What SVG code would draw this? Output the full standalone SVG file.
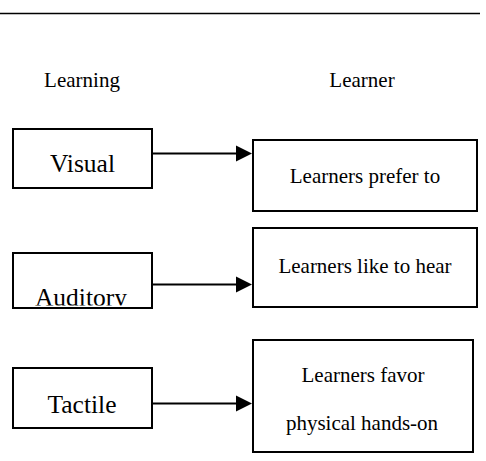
<svg xmlns="http://www.w3.org/2000/svg" width="486" height="461" viewBox="0 0 486 461">
<style>
.box{fill:#fff;stroke:#000;stroke-width:2}
.t{font-family:"Liberation Serif","Times New Roman",serif;fill:#000;text-anchor:middle}
.s{font-size:21px}
.l{font-size:25.5px}
.c{stroke:#000;stroke-width:2;fill:none}
</style>
<defs>
<clipPath id="clipAud"><rect x="14" y="254" width="137" height="51.5"/></clipPath>
</defs>
<rect width="486" height="461" fill="#fff"/>
<line x1="0" y1="13.5" x2="480" y2="13.5" stroke="#000" stroke-width="1.6"/>
<text class="t s" x="82" y="87">Learning</text>
<text class="t s" x="362" y="87">Learner</text>
<g id="visual"><rect class="box" x="13" y="129" width="139" height="59"/><text class="t l" x="82.5" y="172">Visual</text></g>
<g id="auditory"><rect class="box" x="13" y="253" width="139" height="55"/><text class="t l" x="81" y="305.5" clip-path="url(#clipAud)">Auditory</text></g>
<g id="tactile"><rect class="box" x="13" y="368" width="139" height="60"/><text class="t l" x="82" y="413">Tactile</text></g>
<g id="prefer"><rect class="box" x="253" y="140" width="224" height="71"/><text class="t s" x="365" y="183">Learners prefer to</text></g>
<g id="hear"><rect class="box" x="253" y="228" width="224" height="79"/><text class="t s" x="365" y="273">Learners like to hear</text></g>
<g id="favor"><rect class="box" x="253" y="340" width="220" height="112"/><text class="t s" x="363" y="382">Learners favor</text><text class="t s" x="362" y="430">physical hands-on</text></g>
<g id="connectors">
<line class="c" x1="152" y1="153.5" x2="237" y2="153.5"/><polygon points="236,145.5 252,153.5 236,161.5"/>
<line class="c" x1="152" y1="284.5" x2="237" y2="284.5"/><polygon points="236,276.5 252,284.5 236,292.5"/>
<line class="c" x1="152" y1="403.5" x2="237" y2="403.5"/><polygon points="236,395.5 252,403.5 236,411.5"/>
</g>
</svg>
